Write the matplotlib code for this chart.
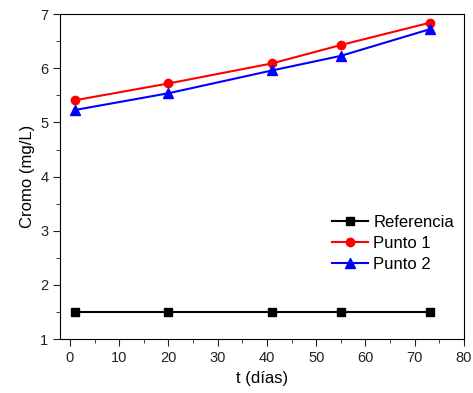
import matplotlib
matplotlib.use("Agg")
import matplotlib.pyplot as plt
from matplotlib.ticker import MultipleLocator

plt.rcParams['font.family'] = ['Liberation Sans', 'DejaVu Sans']

t_dias = [1, 20, 41, 55, 73]
referencia = [1.5, 1.5, 1.5, 1.5, 1.5]
punto1 = [5.41, 5.72, 6.09, 6.43, 6.84]
punto2 = [5.23, 5.54, 5.96, 6.23, 6.72]

fig = plt.figure(figsize=(4.73, 3.93), dpi=100)
ax = fig.add_axes([0.127, 0.137, 0.854, 0.827])

ax.plot(t_dias, referencia, color='black', marker='s', markersize=6, linewidth=1.5, label='Referencia')
ax.plot(t_dias, punto1, color='red', marker='o', markersize=6, linewidth=1.5, label='Punto 1')
ax.plot(t_dias, punto2, color='blue', marker='^', markersize=6.5, linewidth=1.5, label='Punto 2')

ax.set_xlim(-2, 80)
ax.set_ylim(1, 7)
ax.xaxis.set_major_locator(MultipleLocator(10))
ax.xaxis.set_minor_locator(MultipleLocator(5))
ax.yaxis.set_major_locator(MultipleLocator(1))
ax.yaxis.set_minor_locator(MultipleLocator(0.5))
ax.tick_params(which='both', direction='out', labelsize=10.5, colors='#222222')
ax.tick_params(which='major', length=5)
ax.tick_params(which='minor', length=3)

ax.set_xlabel('t (días)', fontsize=12)
ax.set_ylabel('Cromo (mg/L)', fontsize=12)

ax.legend(loc='center right', bbox_to_anchor=(1.0, 0.295), frameon=False,
          fontsize=12, handlelength=2.2, handletextpad=0.3, labelspacing=0.35,
          borderaxespad=0.2)

fig.savefig('out.png', dpi=100)
